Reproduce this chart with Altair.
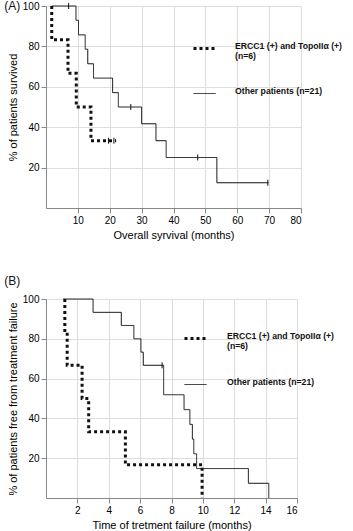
import altair as alt
import pandas as pd

FONT = "Liberation Sans"
G1 = "ERCC1 (+) and TopoIIα (+)|(n=6)"
G2 = "Other patients (n=21)"
groups = [G1, G2]

# ---- Panel A: overall survival (months, % survived)
a_solid_t = [1.8, 9.4, 10.2, 12.3, 13.1, 14.9, 20.9, 22.7, 30.0, 34.5, 37.7, 53.6, 69.8]
a_solid_s = [100, 92.9, 85.7, 78.6, 71.4, 64.3, 57.1, 50.0, 41.7, 33.3, 25.0, 12.5, 12.5]
a_dot_t = [1.8, 1.8, 6.9, 9.5, 14.1, 22.0]
a_dot_s = [100, 83.3, 66.7, 50.0, 33.3, 33.3]
a_cens_t = [7.1, 26.6, 47.6, 69.6, 19.6, 21.3]
a_cens_s = [100, 50.0, 25.0, 12.5, 33.3, 33.3]

# ---- Panel B: time to treatment failure (months, % free)
b_solid_t = [1.1, 3.0, 4.8, 5.6, 6.05, 6.2, 7.5, 8.8, 9.17, 9.33, 9.42, 9.6, 12.9, 14.2]
b_solid_s = [100, 93.3, 86.7, 80.0, 73.3, 66.7, 51.9, 44.4, 37.0, 29.6, 22.2, 14.8, 7.4, 0]
b_dot_t = [1.2, 1.2, 1.35, 2.3, 2.72, 5.06, 9.95]
b_dot_s = [100, 83.3, 66.7, 50.0, 33.3, 16.7, 0]
b_cens_t = [7.4]
b_cens_s = [66.7]

a_xticks = [10, 20, 30, 40, 50, 60, 70, 80]
b_xticks = [2, 4, 6, 8, 10, 12, 14, 16]
y_ticks = [20, 40, 60, 80, 100]


def lines_df(dot_t, dot_s, solid_t, solid_s):
    rows = []
    for i, (t, s) in enumerate(zip(dot_t, dot_s)):
        rows.append({"t": t, "s": s, "group": G1, "i": i})
    for i, (t, s) in enumerate(zip(solid_t, solid_s)):
        rows.append({"t": t, "s": s, "group": G2, "i": i})
    return pd.DataFrame(rows)


def panel(df_lines, df_cens, xmax, xvals, xtitle, ytitle, tag, w, h,
          lx, ly, loff, rp, title_kw):
    x = alt.X("t:Q", scale=alt.Scale(domain=[0, xmax], nice=False),
              axis=alt.Axis(values=xvals, title=xtitle, titleFontWeight="normal"))
    y = alt.Y("s:Q", scale=alt.Scale(domain=[0, 100], nice=False),
              axis=alt.Axis(values=y_ticks, title=ytitle, titleFontWeight="normal"))
    leg = alt.Legend(title=None, orient="none", legendX=lx, legendY=ly,
                     symbolType="stroke", symbolSize=484,
                     symbolStrokeColor="#111", labelOffset=loff,
                     labelExpr="split(datum.label, '|')",
                     labelFont=FONT, labelFontSize=8.7, labelFontWeight="bold",
                     labelColor="#111", labelLimit=300, labelBaseline="alphabetic",
                     rowPadding=rp)
    lines = alt.Chart(df_lines).mark_line(interpolate="step-after", color="#111").encode(
        x=x, y=y,
        strokeDash=alt.StrokeDash("group:N", scale=alt.Scale(domain=groups, range=[[3, 3], [1, 0]]), legend=leg),
        strokeWidth=alt.StrokeWidth("group:N", scale=alt.Scale(domain=groups, range=[3, 1]), legend=leg),
        order=alt.Order("i:Q"),
    )
    cens = alt.Chart(df_cens).mark_point(shape="M0,-1L0,1", size=36, color="#111",
                                         strokeWidth=1, filled=False, opacity=1).encode(x=x, y=y)
    return alt.layer(lines, cens).properties(
        width=w, height=h,
        title=alt.TitleParams(tag, anchor="start", frame="bounds", fontSize=12,
                              fontWeight="normal", font=FONT, color="#111", **title_kw))


dfA = lines_df(a_dot_t, a_dot_s, a_solid_t, a_solid_s)
dfAc = pd.DataFrame({"t": a_cens_t, "s": a_cens_s})
dfB = lines_df(b_dot_t, b_dot_s, b_solid_t, b_solid_s)
dfBc = pd.DataFrame({"t": b_cens_t, "s": b_cens_s})

pA = panel(dfA, dfAc, 80, a_xticks, "Overall syrvival (months)", "% of patients survived",
           "(A)", 255, 202, 146, 30, 18, 21, {"dx": -3, "dy": 13, "offset": 0})
pB = panel(dfB, dfBc, 16, b_xticks, "Time of tretment failure (months)",
           "% of patients free from treatment failure",
           "(B)", 251, 199, 137, 27, 19, 22, {"dx": -3, "offset": 5})

chart = alt.vconcat(pA, pB, spacing=33).resolve_scale(
    strokeDash="independent", strokeWidth="independent"
).resolve_legend(
    strokeDash="independent", strokeWidth="independent"
).properties(
    padding={"left": 3, "top": -1, "right": 0, "bottom": 0}
).configure_view(stroke=None).configure_axis(
    labelFont=FONT, titleFont=FONT, labelFontSize=12, titleFontSize=12.5,
    titleFontWeight="normal", labelColor="#111", titleColor="#111",
    domainColor="#111", tickColor="#111", tickSize=3, grid=False,
    labelPadding=0, titlePadding=1,
).configure(background="white")

chart.save("out.html", embed_options={"renderer": "svg", "actions": False})
